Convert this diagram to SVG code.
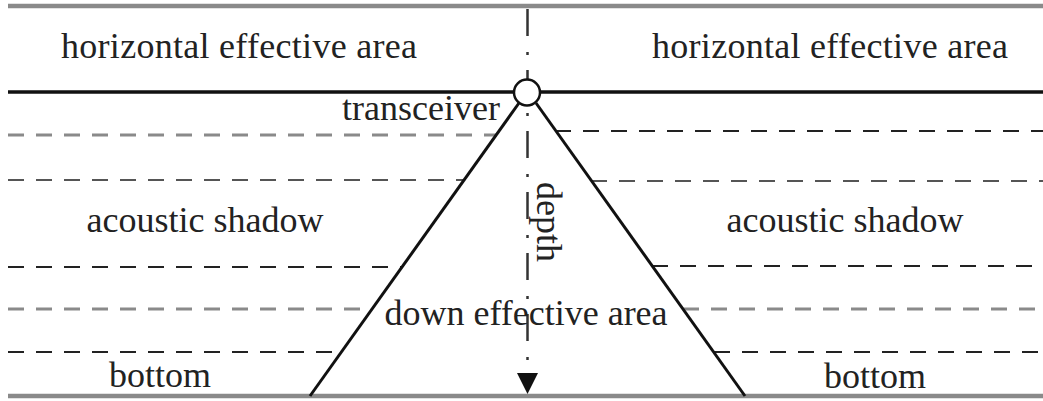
<svg xmlns="http://www.w3.org/2000/svg" width="1043" height="401" viewBox="0 0 1043 401">
<style>
text{font-family:"Liberation Serif","Times New Roman",serif;font-size:36px;fill:#222}
.solid{stroke:#111;stroke-width:3.5;fill:none}
.gray{stroke:#8a8a8a;stroke-width:4.5;fill:none}
.dk{stroke:#222;stroke-width:2;stroke-dasharray:16 12;fill:none}
.gd{stroke:#8a8a8a;stroke-width:3;stroke-dasharray:16 12;fill:none}
.md{stroke:#555;stroke-width:2.2;stroke-dasharray:16 12;fill:none}
.leg{stroke:#111;stroke-width:3;fill:none}
</style>
<rect width="1043" height="401" fill="#fff"/>
<g id="boundaries">
<line class="gray" x1="8" y1="6" x2="1043" y2="6"/>
<line class="solid" x1="8" y1="92" x2="1043" y2="92"/>
<line class="gray" x1="8" y1="396" x2="1043" y2="396"/>
</g>
<g id="layers">
<line class="gd" x1="8" y1="135" x2="497" y2="135"/>
<line class="md" x1="8" y1="180" x2="463" y2="180"/>
<line class="dk" x1="8" y1="267" x2="402" y2="267"/>
<line class="gd" x1="8" y1="309" x2="372" y2="309"/>
<line class="dk" x1="8" y1="352" x2="341" y2="352"/>
<line class="dk" x1="555" y1="131" x2="1043" y2="131"/>
<line class="md" x1="591" y1="181" x2="1043" y2="181"/>
<line class="dk" x1="652" y1="266" x2="1043" y2="266"/>
<line class="gd" x1="683" y1="309" x2="1043" y2="309"/>
<line class="dk" x1="714" y1="352" x2="1043" y2="352"/>
</g>
<g id="connectors">
<line class="leg" x1="519" y1="103" x2="310" y2="396"/>
<line class="leg" x1="536" y1="103" x2="745" y2="396"/>
<line x1="527.5" y1="9" x2="527.5" y2="374" stroke="#333" stroke-width="2.5" stroke-dasharray="27 16 3 15"/>
<polygon points="517,373 538,373 527.5,394" fill="#111"/>
</g>
<g id="transceiver">
<circle cx="527" cy="92.5" r="13" fill="#fff" stroke="#111" stroke-width="2.5"/>
<text x="500" y="120" text-anchor="end">transceiver</text>
</g>
<g id="horizontal-left"><text x="239" y="58" text-anchor="middle" textLength="356">horizontal effective area</text></g>
<g id="horizontal-right"><text x="830" y="58" text-anchor="middle" textLength="356">horizontal effective area</text></g>
<g id="shadow-left"><text x="205" y="232" text-anchor="middle">acoustic shadow</text></g>
<g id="shadow-right"><text x="845" y="232" text-anchor="middle">acoustic shadow</text></g>
<g id="down-area"><text x="526" y="325" text-anchor="middle">down effective area</text></g>
<g id="depth"><text transform="translate(537,182) rotate(90)">depth</text></g>
<g id="bottom-left"><text x="160" y="387" text-anchor="middle">bottom</text></g>
<g id="bottom-right"><text x="875" y="388" text-anchor="middle">bottom</text></g>
</svg>
